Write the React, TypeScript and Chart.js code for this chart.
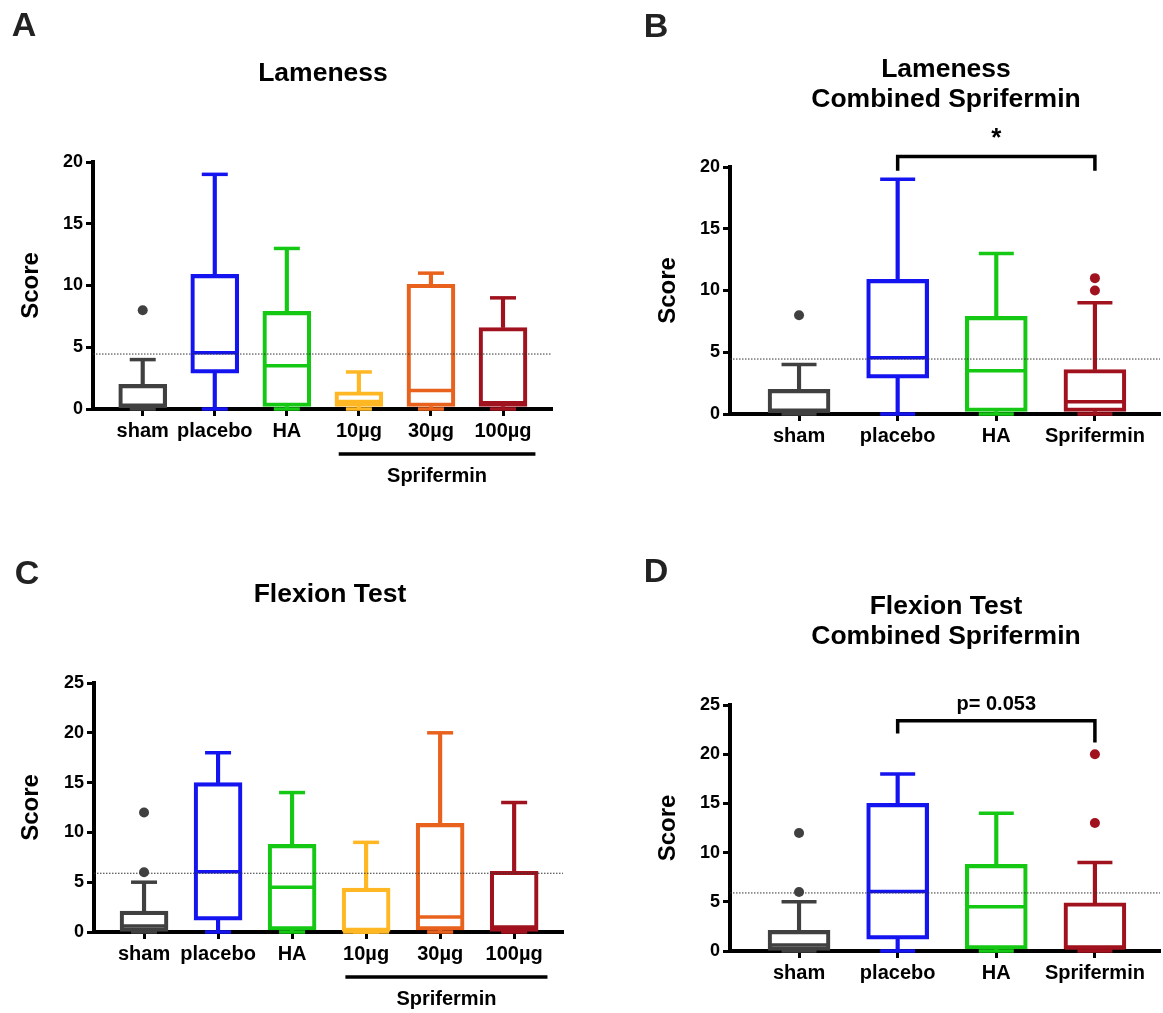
import React, { useEffect, useRef } from 'react';
import { Chart, registerables } from 'chart.js';

Chart.register(...registerables);

const FONT = '"Liberation Sans", Arial, Helvetica, sans-serif';

// ---------- categories & colours ----------
const CATS_DOSE = ['sham', 'placebo', 'HA', '10µg', '30µg', '100µg'];
const CATS_COMBINED = ['sham', 'placebo', 'HA', 'Sprifermin'];
const COLORS_DOSE = ['#404040', '#1414f0', '#14c814', '#ffb824', '#e8621e', '#a0121e'];
const COLORS_COMBINED = ['#404040', '#1414f0', '#14c814', '#a0121e'];

const LAMENESS_Y_MAX = 20;
const FLEXION_Y_MAX = 25;
const Y_STEP = 5;
const GROUP_LABEL = 'Sprifermin';
const GROUP_FROM = 2.72;
const GROUP_TO = 5.45;

// ---------- A: Lameness ----------
const A_MIN = [0, 0, 0, 0, 0, 0];
const A_Q1 = [0.1, 2.9, 0.2, 0.2, 0.2, 0.2];
const A_MEDIAN = [0.3, 4.55, 3.5, 0.6, 1.5, 0.5];
const A_Q3 = [2, 10.9, 7.9, 1.4, 10.1, 6.6];
const A_MAX = [4, 19, 13, 3, 11, 9];
const A_OUTLIER_CAT = [0];
const A_OUTLIER_VAL = [8];
const A_REFERENCE = 4.45;

// ---------- B: Lameness, combined ----------
const B_MIN = [0, 0, 0, 0];
const B_Q1 = [0.1, 2.9, 0.2, 0.2];
const B_MEDIAN = [0.3, 4.55, 3.5, 1.0];
const B_Q3 = [2, 10.9, 7.9, 3.6];
const B_MAX = [4, 19, 13, 9];
const B_OUTLIER_CAT = [0, 3, 3];
const B_OUTLIER_VAL = [8, 10, 11];
const B_REFERENCE = 4.45;
const B_BRACKET_X = [1, 3];
const B_BRACKET_Y = [19.7, 20.85, 19.7];
const B_SIG_TEXT = '*';
const B_SIG_Y = 22.3;

// ---------- C: Flexion test ----------
const C_MIN = [0, 0, 0, 0, 0, 0];
const C_Q1 = [0, 1.2, 0.2, 0, 0.2, 0];
const C_MEDIAN = [0.6, 6.05, 4.5, 0, 1.5, 0.5];
const C_Q3 = [2.1, 15, 8.8, 4.4, 10.9, 6.1];
const C_MAX = [5, 18, 14, 9, 20, 13];
const C_OUTLIER_CAT = [0, 0];
const C_OUTLIER_VAL = [6, 12];
const C_REFERENCE = 5.9;

// ---------- D: Flexion test, combined ----------
const D_MIN = [0, 0, 0, 0];
const D_Q1 = [0, 1.2, 0.2, 0.2];
const D_MEDIAN = [0.6, 6.05, 4.5, 0.3];
const D_Q3 = [2.1, 15, 8.8, 4.9];
const D_MAX = [5, 18, 14, 9];
const D_OUTLIER_CAT = [0, 0, 3, 3];
const D_OUTLIER_VAL = [6, 12, 13, 20];
const D_REFERENCE = 5.9;
const D_BRACKET_X = [1, 3];
const D_BRACKET_Y = [22.1, 23.4, 21.2];
const D_SIG_TEXT = 'p= 0.053';
const D_SIG_Y = 25.1;

const LINE_W = 3.5;

type PanelSpec = {
  left: number; top: number; w: number; h: number;
  pad: { left: number; right: number; top: number; bottom: number };
  yW: number; xH: number;
  xMin: number; xMax: number; yMax: number;
  boxW: number; capW: number;
  cats: string[]; colors: string[];
  min: number[]; q1: number[]; med: number[]; q3: number[]; max: number[];
  outCat: number[]; outVal: number[]; ref: number;
  bracketX?: number[]; bracketY?: number[]; sigText?: string; sigY?: number; sigSize?: number;
  group?: boolean;
};

const extrasPlugin = {
  id: 'extras',
  afterDatasetsDraw(chart: any, _args: any, opts: any) {
    const ctx = chart.ctx;
    const xs = chart.scales.x;
    const ys = chart.scales.y;
    const bottom = chart.chartArea.bottom;
    ctx.save();
    ctx.fillStyle = '#000';
    ctx.strokeStyle = '#000';
    ctx.textAlign = 'center';
    ctx.textBaseline = 'middle';
    if (opts.group) {
      const g = opts.group;
      ctx.lineWidth = LINE_W;
      ctx.beginPath();
      ctx.moveTo(xs.getPixelForValue(g.from), bottom + 45);
      ctx.lineTo(xs.getPixelForValue(g.to), bottom + 45);
      ctx.stroke();
      ctx.font = `bold 20px ${FONT}`;
      ctx.fillText(g.label, xs.getPixelForValue((g.from + g.to) / 2), bottom + 67);
    }
    if (opts.note) {
      const n = opts.note;
      ctx.font = `bold ${n.size}px ${FONT}`;
      ctx.fillText(n.text, xs.getPixelForValue(n.x), ys.getPixelForValue(n.y));
    }
    ctx.restore();
  },
};

function buildConfig(p: PanelSpec): any {
  const idx = p.cats.map((_, i) => i);
  const datasets: any[] = [
    {
      type: 'bar', label: 'whisker-high',
      data: idx.map((i) => ({ x: i, y: [p.q3[i], p.max[i]] })),
      backgroundColor: p.colors, borderWidth: 0, barThickness: LINE_W, grouped: false, order: 6,
    },
    {
      type: 'bar', label: 'whisker-low',
      data: idx.map((i) => ({ x: i, y: [p.min[i], p.q1[i]] })),
      backgroundColor: p.colors, borderWidth: 0, barThickness: LINE_W, grouped: false, order: 6,
    },
    {
      type: 'bar', label: 'box',
      data: idx.map((i) => ({ x: i, y: [p.q1[i], p.q3[i]] })),
      backgroundColor: 'rgba(255,255,255,0)', borderColor: p.colors, borderWidth: LINE_W,
      borderSkipped: false, barThickness: p.boxW, grouped: false, order: 5,
    },
    {
      type: 'scatter', label: 'median',
      data: idx.map((i) => ({ x: i, y: p.med[i] })),
      pointStyle: 'line', pointRadius: p.boxW / 2 - 1, pointBorderWidth: LINE_W,
      pointBorderColor: p.colors, order: 4,
    },
    {
      type: 'scatter', label: 'caps',
      data: [...idx.map((i) => ({ x: i, y: p.max[i] })), ...idx.map((i) => ({ x: i, y: p.min[i] }))],
      pointStyle: 'line', pointRadius: p.capW / 2, pointBorderWidth: LINE_W,
      pointBorderColor: [...p.colors, ...p.colors], order: 4,
    },
    {
      type: 'scatter', label: 'outliers',
      data: p.outCat.map((c, k) => ({ x: c, y: p.outVal[k] })),
      pointStyle: 'circle', pointRadius: 5, pointBorderWidth: 0,
      pointBackgroundColor: p.outCat.map((c) => p.colors[c]), order: 0,
    },
    {
      type: 'line', label: 'reference',
      data: [{ x: p.xMin, y: p.ref }, { x: p.xMax, y: p.ref }],
      borderColor: '#333', borderWidth: 1, borderDash: [1.5, 1.5], pointRadius: 0, order: 1,
    },
  ];
  if (p.bracketX && p.bracketY) {
    const bx = p.bracketX;
    const by = p.bracketY;
    datasets.push({
      type: 'line', label: 'bracket',
      data: [{ x: bx[0], y: by[0] }, { x: bx[0], y: by[1] }, { x: bx[1], y: by[1] }, { x: bx[1], y: by[2] }],
      borderColor: '#000', borderWidth: LINE_W, borderJoinStyle: 'miter', pointRadius: 0, order: 0,
    });
  }
  datasets.forEach((d) => { d.clip = false; });

  const grid = { offset: false, drawOnChartArea: false, drawTicks: true, tickLength: 7, tickWidth: 3, tickColor: '#000', color: '#000' };
  const border = { display: true, color: '#000', width: 4 };

  return {
    type: 'bar',
    data: { datasets },
    plugins: [extrasPlugin],
    options: {
      animation: false,
      responsive: false,
      devicePixelRatio: 1,
      events: [],
      layout: { padding: p.pad, autoPadding: false },
      plugins: {
        legend: { display: false },
        tooltip: { enabled: false },
        extras: {
          group: p.group ? { from: GROUP_FROM, to: GROUP_TO, label: GROUP_LABEL } : null,
          note: p.sigText ? { x: (p.bracketX![0] + p.bracketX![1]) / 2, y: p.sigY, text: p.sigText, size: p.sigSize } : null,
        },
      },
      scales: {
        x: {
          type: 'linear', min: p.xMin, max: p.xMax, offset: false,
          afterBuildTicks: (s: any) => { s.ticks = idx.map((i) => ({ value: i })); },
          afterFit: (s: any) => { s.height = p.xH; },
          ticks: {
            callback: (v: any) => p.cats[v] ?? '',
            color: '#000', font: { family: FONT, size: 20, weight: 'bold' },
            padding: 3, autoSkip: false, maxRotation: 0, minRotation: 0,
          },
          grid, border,
        },
        y: {
          type: 'linear', min: 0, max: p.yMax, offset: false,
          afterFit: (s: any) => { s.width = p.yW; },
          ticks: { stepSize: Y_STEP, color: '#000', font: { family: FONT, size: 18, weight: 'bold' }, padding: 3 },
          grid, border,
          title: { display: true, text: 'Score', color: '#000', font: { family: FONT, size: 24, weight: 'bold' }, padding: 0 },
        },
      },
    },
  };
}

const PANELS: PanelSpec[] = [
  {
    left: 0, top: 0, w: 580, h: 510,
    pad: { left: 17, right: 28, top: 162, bottom: 11 }, yW: 76, xH: 90,
    xMin: -0.69, xMax: 5.68, yMax: LAMENESS_Y_MAX, boxW: 48, capW: 26,
    cats: CATS_DOSE, colors: COLORS_DOSE,
    min: A_MIN, q1: A_Q1, med: A_MEDIAN, q3: A_Q3, max: A_MAX,
    outCat: A_OUTLIER_CAT, outVal: A_OUTLIER_VAL, ref: A_REFERENCE, group: true,
  },
  {
    left: 580, top: 0, w: 583, h: 510,
    pad: { left: 74, right: 3, top: 167, bottom: 36 }, yW: 76, xH: 60,
    xMin: -0.7, xMax: 3.66, yMax: LAMENESS_Y_MAX, boxW: 62, capW: 35,
    cats: CATS_COMBINED, colors: COLORS_COMBINED,
    min: B_MIN, q1: B_Q1, med: B_MEDIAN, q3: B_Q3, max: B_MAX,
    outCat: B_OUTLIER_CAT, outVal: B_OUTLIER_VAL, ref: B_REFERENCE,
    bracketX: B_BRACKET_X, bracketY: B_BRACKET_Y, sigText: B_SIG_TEXT, sigY: B_SIG_Y, sigSize: 26,
  },
  {
    left: 0, top: 510, w: 580, h: 503,
    pad: { left: 17, right: 17, top: 173, bottom: 11 }, yW: 77, xH: 70,
    xMin: -0.676, xMax: 5.66, yMax: FLEXION_Y_MAX, boxW: 48, capW: 26,
    cats: CATS_DOSE, colors: COLORS_DOSE,
    min: C_MIN, q1: C_Q1, med: C_MEDIAN, q3: C_Q3, max: C_MAX,
    outCat: C_OUTLIER_CAT, outVal: C_OUTLIER_VAL, ref: C_REFERENCE, group: true,
  },
  {
    left: 580, top: 510, w: 583, h: 503,
    pad: { left: 74, right: 3, top: 195, bottom: 12 }, yW: 76, xH: 50,
    xMin: -0.7, xMax: 3.66, yMax: FLEXION_Y_MAX, boxW: 62, capW: 35,
    cats: CATS_COMBINED, colors: COLORS_COMBINED,
    min: D_MIN, q1: D_Q1, med: D_MEDIAN, q3: D_Q3, max: D_MAX,
    outCat: D_OUTLIER_CAT, outVal: D_OUTLIER_VAL, ref: D_REFERENCE,
    bracketX: D_BRACKET_X, bracketY: D_BRACKET_Y, sigText: D_SIG_TEXT, sigY: D_SIG_Y, sigSize: 20,
  },
];

const LABELS = [
  { text: 'A', x: 24, y: 24, size: 34, color: '#222' },
  { text: 'B', x: 656, y: 25, size: 34, color: '#222' },
  { text: 'C', x: 27, y: 572, size: 34, color: '#222' },
  { text: 'D', x: 656, y: 570, size: 34, color: '#222' },
  { text: 'Lameness', x: 323, y: 72, size: 26.5, color: '#000' },
  { text: 'Lameness', x: 946, y: 68, size: 26.5, color: '#000' },
  { text: 'Combined Sprifermin', x: 946, y: 98, size: 26.5, color: '#000' },
  { text: 'Flexion Test', x: 330, y: 593, size: 26.5, color: '#000' },
  { text: 'Flexion Test', x: 946, y: 605, size: 26.5, color: '#000' },
  { text: 'Combined Sprifermin', x: 946, y: 635, size: 26.5, color: '#000' },
];

function Panel({ spec }: { spec: PanelSpec }) {
  const ref = useRef<HTMLCanvasElement>(null);
  useEffect(() => {
    const chart = new Chart(ref.current as HTMLCanvasElement, buildConfig(spec));
    return () => chart.destroy();
  }, [spec]);
  return (
    <canvas
      ref={ref}
      width={spec.w}
      height={spec.h}
      style={{ position: 'absolute', left: spec.left, top: spec.top, width: spec.w, height: spec.h }}
    />
  );
}

export default function App() {
  return (
    <div style={{ position: 'absolute', left: 0, top: 0, width: 1163, height: 1013, background: '#fff', overflow: 'hidden', fontFamily: FONT }}>
      {PANELS.map((p, i) => (
        <Panel key={i} spec={p} />
      ))}
      {LABELS.map((l, i) => (
        <div
          key={i}
          style={{
            position: 'absolute', left: l.x - 250, top: l.y - 20, width: 500, height: 40,
            lineHeight: '40px', textAlign: 'center', fontWeight: 'bold', fontSize: l.size,
            color: l.color, whiteSpace: 'nowrap', pointerEvents: 'none',
          }}
        >
          {l.text}
        </div>
      ))}
    </div>
  );
}
